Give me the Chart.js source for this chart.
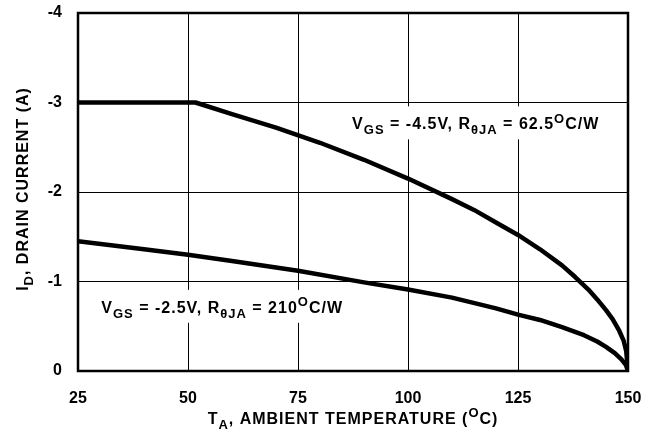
<!DOCTYPE html>
<html>
<head>
<meta charset="utf-8">
<script src="https://cdn.jsdelivr.net/npm/chart.js@4.4.1/dist/chart.umd.min.js"></script>
<style>
  html, body { margin: 0; padding: 0; background: #fff; }
  #wrap { width: 652px; height: 444px; }
</style>
</head>
<body>
<div id="wrap"><canvas id="chart"></canvas></div>
<script>
// drain current derating curves
const temp45 = [25, 51.7, 60, 70, 80, 90, 100, 110, 115, 120, 125, 130, 135, 138, 141, 143, 145, 146.5, 148, 149, 149.6, 150];
const id45   = [-3, -3, -2.87, -2.72, -2.55, -2.36, -2.15, -1.92, -1.80, -1.66, -1.52, -1.36, -1.18, -1.05, -0.91, -0.80, -0.68, -0.58, -0.45, -0.34, -0.22, 0];
const temp25 = [25, 40, 50, 60, 75, 90, 100, 110, 120, 125, 130, 135, 140, 143, 145, 147, 148.5, 149.5, 150];
const id25   = [-1.45, -1.36, -1.30, -1.23, -1.12, -0.99, -0.91, -0.82, -0.70, -0.63, -0.57, -0.49, -0.40, -0.33, -0.27, -0.20, -0.13, -0.07, 0];
const xTicks = [25, 50, 75, 100, 125, 150];
const yTicks = [0, -1, -2, -3, -4];

const FONT = 'Liberation Sans, Arial, sans-serif';

const note45 = [{ t: 'V' }, { t: 'GS', s: 1 }, { t: ' = -4.5V, R' }, { t: 'θJA', s: 1 }, { t: ' = 62.5' }, { t: 'O', u: 1 }, { t: 'C/W' }];
const note25 = [{ t: 'V' }, { t: 'GS', s: 1 }, { t: ' = -2.5V, R' }, { t: 'θJA', s: 1 }, { t: ' = 210' }, { t: 'O', u: 1 }, { t: 'C/W' }];

// draws text runs with sub/superscripts, returns width
function richText(ctx, parts, x, y, size, align, dry) {
  const small = Math.round(size * 0.82);
  const measure = p => { ctx.font = `bold ${p.s || p.u ? small : size}px ${FONT}`; return ctx.measureText(p.t).width; };
  const total = parts.reduce((w, p) => w + measure(p), 0);
  if (dry) return total;
  let cx = align === 'center' ? x - total / 2 : x;
  ctx.textBaseline = 'alphabetic';
  ctx.textAlign = 'left';
  parts.forEach(p => {
    const w = measure(p);
    const dy = p.s ? size * 0.32 : p.u ? -size * 0.42 : 0;
    ctx.fillText(p.t, cx, y + dy);
    cx += w;
  });
  return total;
}

function notes(chart) {
  const { x, y } = chart.scales;
  return [
    { parts: note45, px: x.getPixelForValue(87.3), py: y.getPixelForValue(-2.70) },
    { parts: note25, px: x.getPixelForValue(30.3), py: y.getPixelForValue(-0.65) }
  ];
}

const labels = {
  id: 'labels',
  beforeDatasetsDraw(chart) {
    // white boxes behind the notes cut the grid
    const ctx = chart.ctx;
    ctx.save();
    ctx.letterSpacing = '1px';
    ctx.fillStyle = '#fff';
    notes(chart).forEach(n => {
      const w = richText(ctx, n.parts, 0, 0, 16, 'left', true);
      ctx.fillRect(n.px - 4, n.py - 23, w + 8, 33);
    });
    ctx.restore();
  },
  afterDatasetsDraw(chart) {
    const { ctx, chartArea } = chart;
    ctx.save();
    ctx.letterSpacing = '1px';
    ctx.fillStyle = '#000';
    notes(chart).forEach(n => richText(ctx, n.parts, n.px, n.py, 16));
    // axis titles
    richText(ctx, [{ t: 'T' }, { t: 'A', s: 1 }, { t: ', AMBIENT TEMPERATURE (' }, { t: 'O', u: 1 }, { t: 'C)' }],
      (chartArea.left + chartArea.right) / 2, 424, 16, 'center');
    ctx.translate(28, (chartArea.top + chartArea.bottom) / 2 - 3);
    ctx.rotate(-Math.PI / 2);
    richText(ctx, [{ t: 'I' }, { t: 'D', s: 1 }, { t: ', DRAIN CURRENT (A)' }], 0, 0, 16, 'center');
    ctx.restore();
    // plot frame
    ctx.save();
    ctx.strokeStyle = '#000';
    ctx.lineWidth = 2.5;
    ctx.strokeRect(chartArea.left, chartArea.top, chartArea.right - chartArea.left, chartArea.bottom - chartArea.top);
    ctx.restore();
  }
};

const tickFont = { family: FONT, size: 16, weight: 'bold' };

new Chart(document.getElementById('chart'), {
  type: 'line',
  data: {
    datasets: [
      { data: temp45.map((t, i) => ({ x: t, y: id45[i] })), borderColor: '#000', borderWidth: 4.5, pointRadius: 0, tension: 0, borderJoinStyle: 'round' },
      { data: temp25.map((t, i) => ({ x: t, y: id25[i] })), borderColor: '#000', borderWidth: 4.5, pointRadius: 0, tension: 0, borderJoinStyle: 'round' }
    ]
  },
  options: {
    responsive: true,
    maintainAspectRatio: false,
    animation: false,
    layout: { autoPadding: false, padding: { left: 0, right: 24, top: 13, bottom: 0 } },
    plugins: { legend: { display: false }, tooltip: { enabled: false } },
    scales: {
      x: {
        type: 'linear', min: 25, max: 150,
        afterBuildTicks: s => { s.ticks = xTicks.map(v => ({ value: v })); },
        afterFit: s => { s.height = 73; s.paddingLeft = 0; s.paddingRight = 0; },
        grid: { color: '#000', lineWidth: 1, drawTicks: false },
        border: { display: false },
        ticks: { color: '#000', font: tickFont, padding: 18, maxRotation: 0 }
      },
      y: {
        type: 'linear', min: -4, max: 0, reverse: true,
        afterBuildTicks: s => { s.ticks = yTicks.map(v => ({ value: v })); },
        afterFit: s => { s.width = 78; s.paddingTop = 0; s.paddingBottom = 0; },
        grid: { color: '#000', lineWidth: 1, drawTicks: false },
        border: { display: false },
        ticks: { color: '#000', font: tickFont, padding: 16 }
      }
    }
  },
  plugins: [labels]
});
</script>
</body>
</html>
